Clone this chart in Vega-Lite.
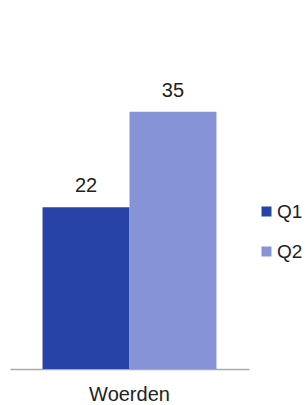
{
  "$schema": "https://vega.github.io/schema/vega-lite/v6.json",
  "width": 239,
  "height": 294,
  "padding": {"left": 10, "top": 75, "right": 0, "bottom": 0},
  "background": "white",
  "config": {"view": {"stroke": null}, "font": "Liberation Sans"},
  "data": {"values": [
    {"place": "Woerden", "quarter": "Q1", "value": 22},
    {"place": "Woerden", "quarter": "Q2", "value": 35}
  ]},
  "encoding": {
    "x": {"field": "place", "type": "nominal", "title": null,
      "scale": {"paddingInner": 0, "paddingOuter": 0.187},
      "axis": {"labelAngle": 0, "labelFontSize": 20, "labelColor": "#222", "ticks": false,
        "domainColor": "#aaa", "domainWidth": 1.5, "labelPadding": 15}},
    "xOffset": {"field": "quarter", "type": "nominal"},
    "y": {"field": "value", "type": "quantitative", "scale": {"domain": [0, 40]}, "axis": null}
  },
  "layer": [
    {"mark": {"type": "bar"},
      "encoding": {"color": {"field": "quarter", "type": "nominal",
        "scale": {"domain": ["Q1", "Q2"], "range": ["#2743a8", "#8693d6"]},
        "legend": {"title": null, "orient": "none", "legendX": 247, "legendY": 127,
          "symbolType": "square", "symbolSize": 100, "symbolStrokeWidth": 0, "symbolOpacity": 1,
          "labelFontSize": 19, "labelColor": "#222", "rowPadding": 20, "labelOffset": 1, "padding": 0}}}},
    {"mark": {"type": "text", "fontSize": 20, "color": "#222", "baseline": "alphabetic", "dy": -15},
      "encoding": {"text": {"field": "value", "type": "quantitative"}}}
  ]
}
